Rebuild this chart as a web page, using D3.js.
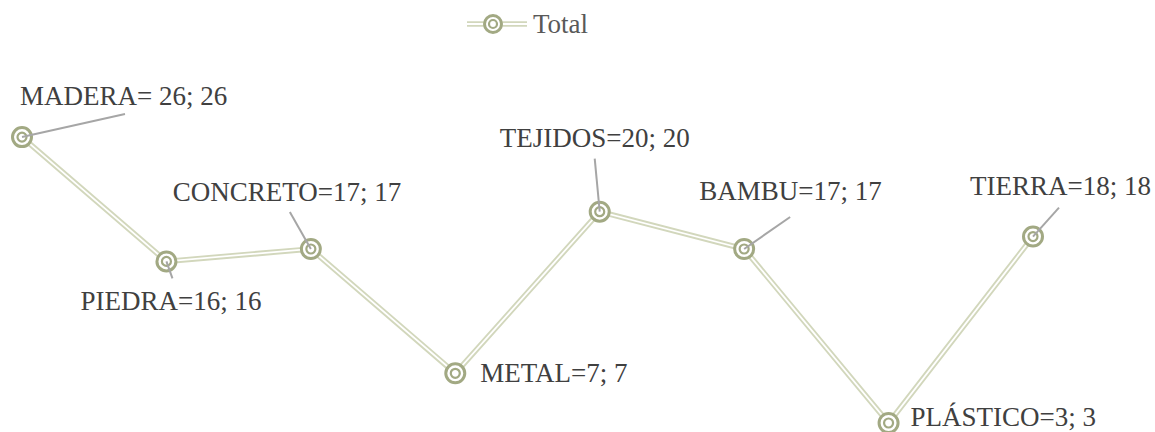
<!DOCTYPE html>
<html>
<head>
<meta charset="utf-8">
<script src="https://cdn.jsdelivr.net/npm/d3@7"></script>
<style>
  html, body { margin: 0; padding: 0; background: #ffffff; }
  text { font-family: "Liberation Serif", "Times New Roman", serif; }
</style>
</head>
<body>
<div id="chart-area"></div>
<script>
// data
var categories = ["MADERA", "PIEDRA", "CONCRETO", "METAL", "TEJIDOS", "BAMBU", "PLÁSTICO", "TIERRA"];
var totals = [26, 16, 17, 7, 20, 17, 3, 18];
var labelTexts = ["MADERA= 26; 26", "PIEDRA=16; 16", "CONCRETO=17; 17", "METAL=7; 7",
    "TEJIDOS=20; 20", "BAMBU=17; 17", "PLÁSTICO=3; 3", "TIERRA=18; 18"];
var seriesName = "Total";

// label placement relative to each point (dx, dy of text, and leader end or null)
var labelLayout = [
    { dx: -2, dy: -32, lx: 103, ly: -23 },
    { dx: -86, dy: 49, lx: 6, ly: 17 },
    { dx: -138, dy: -48, lx: -21, ly: -37 },
    { dx: 25, dy: 9, lx: null, ly: null },
    { dx: -100, dy: -65, lx: -5, ly: -53 },
    { dx: -45, dy: -49, lx: 46, ly: -32 },
    { dx: 22, dy: 3, lx: null, ly: null },
    { dx: -63, dy: -42, lx: 26, ly: -29 }
];

var width = 1155, height = 432;

var svg = d3.select("#chart-area")
    .append("svg")
    .attr("width", width)
    .attr("height", height);

var x = d3.scalePoint()
    .domain(categories)
    .range([22, 1033]);

var y = d3.scaleLinear()
    .domain([0, 26])
    .range([460.3, 137.1]);

var lineGen = d3.line()
    .x(function (d, i) { return x(categories[i]); })
    .y(function (d) { return y(d); });

var lineColor = "#d2d7bc";
var markerColor = "#a2a983";

// double line: wide light stroke with a white core
svg.append("path")
    .datum(totals)
    .attr("d", lineGen)
    .attr("fill", "none")
    .attr("stroke", lineColor)
    .attr("stroke-width", 5.5);
svg.append("path")
    .datum(totals)
    .attr("d", lineGen)
    .attr("fill", "none")
    .attr("stroke", "#ffffff")
    .attr("stroke-width", 1.8);

var points = svg.append("g").selectAll("g")
    .data(totals)
    .enter().append("g")
    .attr("transform", function (d, i) {
        return "translate(" + x(categories[i]) + "," + y(d) + ")";
    });

points.append("circle")
    .attr("r", 9.5)
    .attr("fill", "#ffffff")
    .attr("stroke", markerColor)
    .attr("stroke-width", 3);
points.append("circle")
    .attr("r", 4.5)
    .attr("fill", "none")
    .attr("stroke", markerColor)
    .attr("stroke-width", 2.2);

// leader lines
var leaders = svg.append("g");
totals.forEach(function (d, i) {
    var l = labelLayout[i];
    if (l.lx === null) return;
    var px = x(categories[i]), py = y(d);
    leaders.append("line")
        .attr("x1", px)
        .attr("y1", py)
        .attr("x2", px + l.lx)
        .attr("y2", py + l.ly)
        .attr("stroke", "#a6a6a6")
        .attr("stroke-width", 2);
});

// data labels
svg.append("g").selectAll("text")
    .data(totals)
    .enter().append("text")
    .attr("x", function (d, i) { return x(categories[i]) + labelLayout[i].dx; })
    .attr("y", function (d, i) { return y(d) + labelLayout[i].dy; })
    .attr("font-size", 27)
    .attr("fill", "#404040")
    .text(function (d, i) { return labelTexts[i]; });

// legend
var legend = svg.append("g")
    .attr("transform", "translate(467,24)");
legend.append("line")
    .attr("x1", 0).attr("y1", 0).attr("x2", 60).attr("y2", 0)
    .attr("stroke", lineColor).attr("stroke-width", 5.5);
legend.append("line")
    .attr("x1", 0).attr("y1", 0).attr("x2", 60).attr("y2", 0)
    .attr("stroke", "#ffffff").attr("stroke-width", 1.8);
legend.append("circle")
    .attr("cx", 26).attr("r", 8.5)
    .attr("fill", "#ffffff").attr("stroke", markerColor).attr("stroke-width", 3);
legend.append("circle")
    .attr("cx", 26).attr("r", 4)
    .attr("fill", "none").attr("stroke", markerColor).attr("stroke-width", 2.2);
legend.append("text")
    .attr("x", 66)
    .attr("y", 9)
    .attr("font-size", 27)
    .attr("fill", "#595959")
    .text(seriesName);
</script>
</body>
</html>
